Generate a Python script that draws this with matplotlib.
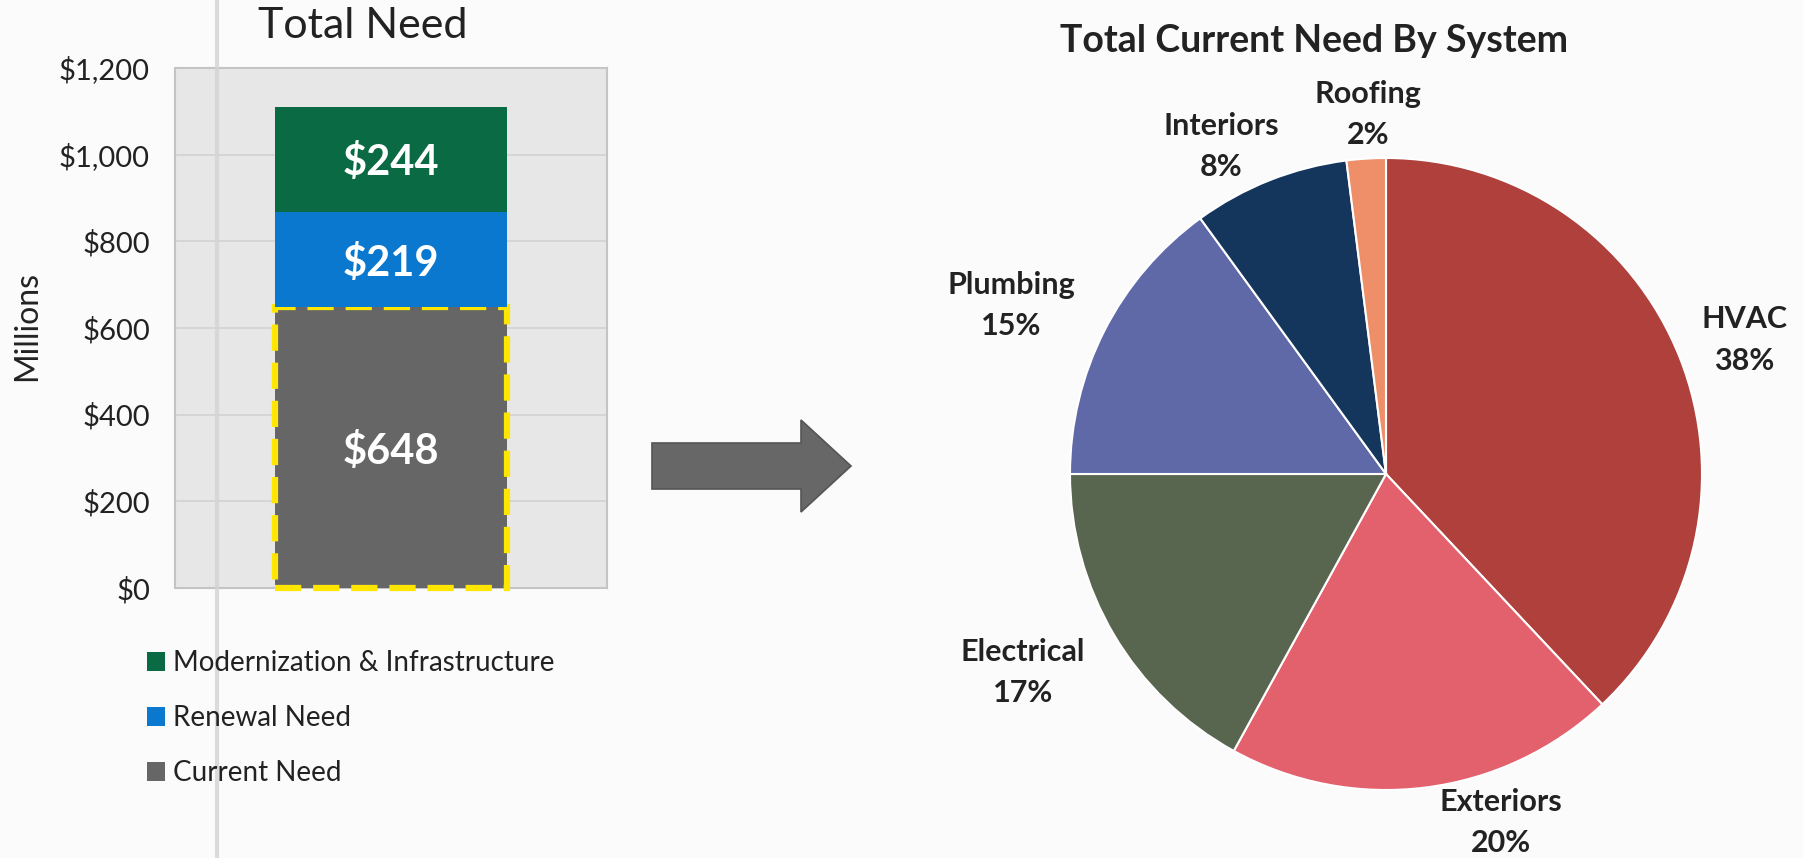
import matplotlib
matplotlib.use("Agg")
import matplotlib.pyplot as plt
import numpy as np
from matplotlib.patches import Patch, Polygon
from matplotlib.lines import Line2D

plt.rcParams['font.family'] = ['Lato', 'DejaVu Sans']

# Data for the stacked bar (millions of dollars)
bar_series = ['Current Need', 'Renewal Need', 'Modernization & Infrastructure']
bar_values = [648, 219, 244]
bar_colors = ['#666666', '#0b78cf', '#096a43']
yticks = [0, 200, 400, 600, 800, 1000, 1200]

# Data for the pie (share of current need)
systems = ['HVAC', 'Exteriors', 'Electrical', 'Plumbing', 'Interiors', 'Roofing']
shares = [38, 20, 17, 15, 8, 2]
pie_colors = ['#b0403c', '#e2616d', '#58654f', '#5f69a8', '#15365c', '#ef8f6a']

W, H = 1803, 858
fig = plt.figure(figsize=(W / 100, H / 100), dpi=100)
fig.patch.set_facecolor('#fbfbfb')

def px_axes(x0, y0, x1, y1):
    # pixel box (top-left origin) -> figure axes
    return fig.add_axes([x0 / W, 1 - y1 / H, (x1 - x0) / W, (y1 - y0) / H])

# ---- left: stacked bar ----
ax = px_axes(175, 68, 607, 588)
ax.set_facecolor('#e7e7e7')
bottom = 0
for name, v, c in zip(bar_series, bar_values, bar_colors):
    if name == 'Current Need':
        ax.bar(0, v, width=0.537, bottom=bottom, color=c, edgecolor='#ffe600',
               linewidth=4.5, linestyle=(0, (4.2, 1.9)), zorder=3, clip_on=False)
    else:
        ax.bar(0, v, width=0.537, bottom=bottom, color=c, zorder=3)
    ax.text(0, bottom + v / 2 - 8, '${}'.format(v), ha='center', va='center',
            color='white', fontsize=30, fontweight='bold', zorder=4)
    bottom += v
ax.set_xlim(-0.5, 0.5)
ax.set_ylim(0, 1200)
ax.set_yticks(yticks)
ax.set_yticklabels(['${:,}'.format(t) for t in yticks], fontsize=21, color='#222222')
ax.set_xticks([])
ax.tick_params(axis='y', length=0, pad=18)
ax.yaxis.grid(True, color='#d2d2d2', linewidth=1.2, zorder=0)
ax.set_axisbelow(True)
for s in ax.spines.values():
    s.set_color('#c4c4c4')
    s.set_linewidth(1.5)
ax.set_ylabel('Millions', fontsize=23, color='#222222')
ax.yaxis.set_label_coords((42 - 175) / 432, (588 - 326) / 520)
fig.text(363 / W, 1 - 26 / H, 'Total Need', ha='center', va='center',
         fontsize=31, color='#222222')

handles = [Patch(facecolor=c, edgecolor='none') for c in bar_colors[::-1]]
fig.legend(handles, bar_series[::-1], loc='upper left',
           bbox_to_anchor=(147 / W, 1 - 650 / H), frameon=False, fontsize=20,
           borderpad=0, borderaxespad=0,
           handlelength=0.65, handleheight=0.65, handletextpad=0.3,
           labelspacing=1.05, labelcolor='#222222')

# scanner fold line
fig.add_artist(Line2D([217 / W, 217 / W], [0, 1], color='#d4d4d4', lw=3,
                      transform=fig.transFigure, zorder=5, alpha=0.8))

# ---- arrow ----
arrow_px = [(652, 443), (801, 443), (801, 420), (851, 466), (801, 512),
            (801, 489), (652, 489)]
fig.add_artist(Polygon([(x / W, 1 - y / H) for x, y in arrow_px], closed=True,
                       facecolor='#676767', edgecolor='#555555', lw=1.2,
                       transform=fig.transFigure))

# ---- right: pie ----
cx, cy, r = 1386, 474, 316
pax = px_axes(cx - r, cy - r, cx + r, cy + r)
pax.pie(shares, colors=pie_colors, startangle=90, counterclock=False,
        wedgeprops=dict(edgecolor='white', linewidth=1.5))
pax.set_xlim(-1, 1)
pax.set_ylim(-1, 1)
pax.set_aspect('equal')
pax.axis('off')

# label angle (deg) and distance from centre, per wedge
label_pos = [(20.5, 1.21), (-71.8, 1.16), (-151.3, 1.31), (155.8, 1.30),
             (116.7, 1.16), (92.9, 1.14)]
for name, s, (a, d) in zip(systems, shares, label_pos):
    pax.text(d * np.cos(np.radians(a)), d * np.sin(np.radians(a)),
             '{}\n{}%'.format(name, s), ha='center', va='center',
             fontsize=22, fontweight='bold', color='#222222',
             linespacing=1.58, clip_on=False)

fig.text(1314 / W, 1 - 41 / H, 'Total Current Need By System', ha='center',
         va='center', fontsize=27, fontweight='bold', color='#222222')

fig.savefig('out.png', dpi=100, facecolor=fig.get_facecolor())
